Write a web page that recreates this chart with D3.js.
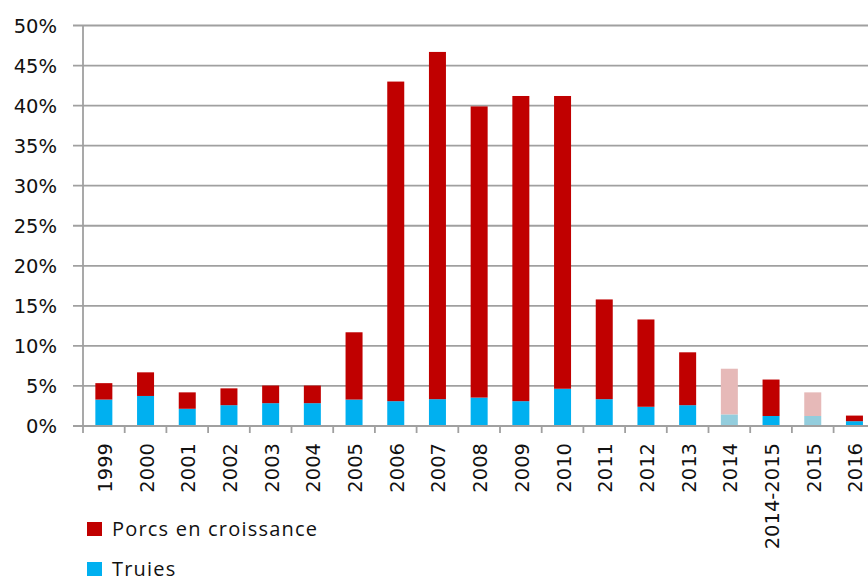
<!DOCTYPE html>
<meta charset="utf-8">
<script src="https://d3js.org/d3.v7.min.js"></script>
<style>
  body { margin: 0; background: #fff; }
  svg text { font-family: "DejaVu Sans", Verdana, sans-serif; fill: #111; }
</style>
<div id="chart"></div>
<script>
// data (percent)
var years = ["1999","2000","2001","2002","2003","2004","2005","2006","2007","2008",
             "2009","2010","2011","2012","2013","2014","2014-2015","2015","2016"];
var truies = [3.3, 3.75, 2.15, 2.6, 2.85, 2.85, 3.3, 3.1, 3.35, 3.55,
              3.1, 4.65, 3.35, 2.4, 2.6, 1.45, 1.25, 1.25, 0.6];
var porcs  = [2.05, 2.95, 2.05, 2.1, 2.2, 2.2, 8.4, 39.9, 43.35, 36.35,
              38.1, 36.55, 12.45, 10.9, 6.6, 5.7, 4.55, 2.95, 0.7];
var faded = ["2014", "2015"];
var yTicks = [0, 5, 10, 15, 20, 25, 30, 35, 40, 45, 50];

var W = 868, H = 581;
var plotLeft = 83, plotBottom = 426, plotTop = 25.5, step = 41.7;

var svg = d3.select("#chart").append("svg")
    .attr("width", W)
    .attr("height", H);

var x = d3.scaleBand()
    .domain(years)
    .range([plotLeft, plotLeft + step * years.length])
    .padding(0);

var y = d3.scaleLinear()
    .domain([0, 50])
    .range([plotBottom, plotTop]);

// gridlines + y labels
svg.append("g").selectAll("line")
    .data(yTicks)
    .enter().append("line")
    .attr("x1", plotLeft - 10)
    .attr("x2", W)
    .attr("y1", function (d) { return y(d); })
    .attr("y2", function (d) { return y(d); })
    .attr("stroke", "#a0a0a0")
    .attr("stroke-width", 1.8);

svg.append("g").selectAll("text")
    .data(yTicks)
    .enter().append("text")
    .attr("x", 57)
    .attr("y", function (d) { return y(d); })
    .attr("dy", "0.36em")
    .attr("text-anchor", "end")
    .style("font-size", "19.5px")
    .text(function (d) { return d + "%"; });

// y axis line
svg.append("line")
    .attr("x1", plotLeft).attr("x2", plotLeft)
    .attr("y1", y(50)).attr("y2", plotBottom + 7)
    .attr("stroke", "#a0a0a0")
    .attr("stroke-width", 1.8);

// stacked bars
var bw = 17;
var rows = years.map(function (d, i) {
    return { year: d, truies: truies[i], porcs: porcs[i], faded: faded.indexOf(d) >= 0 };
});

var g = svg.append("g");
g.selectAll("rect.truies")
    .data(rows)
    .enter().append("rect")
    .attr("class", "truies")
    .attr("x", function (d) { return x(d.year) + (x.bandwidth() - bw) / 2; })
    .attr("width", bw)
    .attr("y", function (d) { return y(d.truies); })
    .attr("height", function (d) { return plotBottom - y(d.truies); })
    .attr("fill", function (d) { return d.faded ? "#93cddd" : "#00b0f0"; });

g.selectAll("rect.porcs")
    .data(rows)
    .enter().append("rect")
    .attr("class", "porcs")
    .attr("x", function (d) { return x(d.year) + (x.bandwidth() - bw) / 2; })
    .attr("width", bw)
    .attr("y", function (d) { return y(d.truies + d.porcs); })
    .attr("height", function (d) { return y(d.truies) - y(d.truies + d.porcs); })
    .attr("fill", function (d) { return d.faded ? "#e6b9b8" : "#c00000"; });

// x axis line and ticks between categories
svg.append("line")
    .attr("x1", plotLeft).attr("x2", W)
    .attr("y1", plotBottom).attr("y2", plotBottom)
    .attr("stroke", "#a0a0a0")
    .attr("stroke-width", 1.8);

svg.append("g").selectAll("line")
    .data(years.slice(1))
    .enter().append("line")
    .attr("x1", function (d) { return x(d); })
    .attr("x2", function (d) { return x(d); })
    .attr("y1", plotBottom)
    .attr("y2", plotBottom + 7)
    .attr("stroke", "#a0a0a0")
    .attr("stroke-width", 1.8);

svg.append("g").selectAll("text")
    .data(years)
    .enter().append("text")
    .attr("transform", function (d) {
        return "translate(" + (x(d) + x.bandwidth() / 2 + 1) + "," + (plotBottom + 17) + ") rotate(-90)";
    })
    .attr("dy", "0.36em")
    .attr("text-anchor", "end")
    .style("font-size", "19.5px")
    .text(function (d) { return d; });

// legend
var legend = [
    { label: "Porcs en croissance", color: "#c00000", y: 529 },
    { label: "Truies", color: "#00b0f0", y: 569 }
];
var lg = svg.append("g").selectAll("g")
    .data(legend)
    .enter().append("g");
lg.append("rect")
    .attr("x", 87)
    .attr("y", function (d) { return d.y - 7; })
    .attr("width", 15)
    .attr("height", 14)
    .attr("fill", function (d) { return d.color; });
lg.append("text")
    .attr("x", 112)
    .attr("y", function (d) { return d.y; })
    .attr("dy", "0.36em")
    .style("font-family", "'Open Sans', sans-serif")
    .style("font-size", "20px")
    .style("letter-spacing", "1.2px")
    .text(function (d) { return d.label; });
</script>
